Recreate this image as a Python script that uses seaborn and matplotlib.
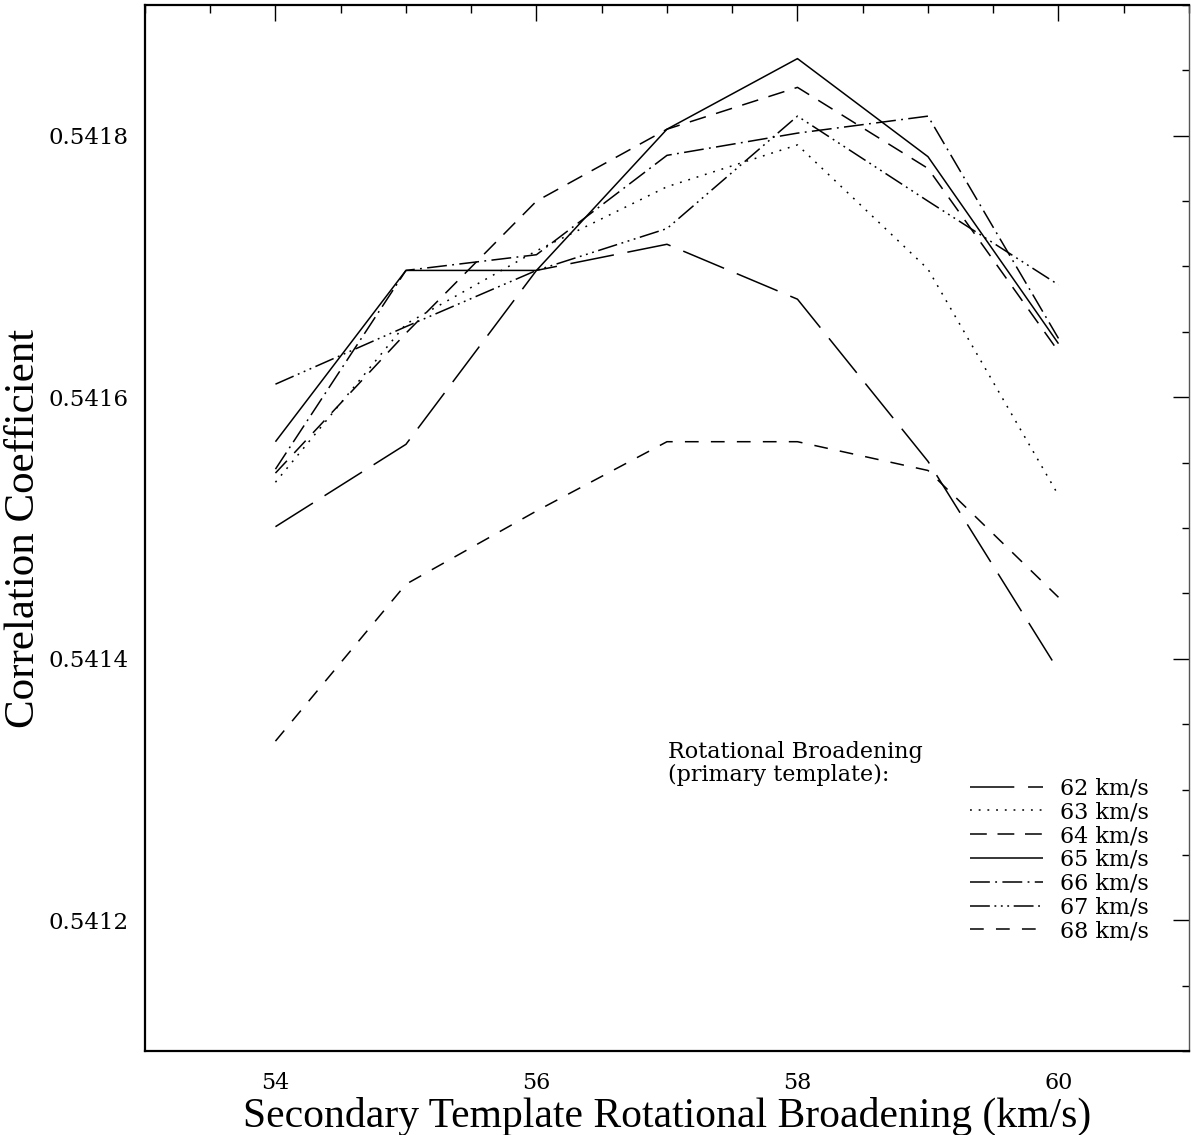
import numpy as np
import pandas as pd
import matplotlib
matplotlib.use("Agg")
import matplotlib.pyplot as plt
import seaborn as sns
from matplotlib.ticker import MultipleLocator, FormatStrFormatter

# ---- data ----
secondary_vrot = [54, 55, 56, 57, 58, 59, 60]
primary_labels = ["62 km/s", "63 km/s", "64 km/s", "65 km/s", "66 km/s", "67 km/s", "68 km/s"]
corr_62 = [0.541501, 0.541564, 0.541697, 0.541717, 0.541675, 0.541551, 0.541391]
corr_63 = [0.541535, 0.541656, 0.541712, 0.541761, 0.541793, 0.541698, 0.541525]
corr_64 = [0.541542, 0.541649, 0.541750, 0.541805, 0.541837, 0.541775, 0.541635]
corr_65 = [0.541566, 0.541697, 0.541697, 0.541805, 0.541859, 0.541784, 0.541641]
corr_66 = [0.541545, 0.541697, 0.541709, 0.541785, 0.541802, 0.541815, 0.541645]
corr_67 = [0.541610, 0.541654, 0.541697, 0.541729, 0.541815, 0.541750, 0.541686]
corr_68 = [0.541337, 0.541457, 0.541513, 0.541566, 0.541566, 0.541544, 0.541447]
all_series = [corr_62, corr_63, corr_64, corr_65, corr_66, corr_67, corr_68]

rows = []
for lab, ser in zip(primary_labels, all_series):
    for xv, yv in zip(secondary_vrot, ser):
        rows.append({"x": xv, "y": yv, "primary": lab})
df = pd.DataFrame(rows)

dash_map = {
    "62 km/s": (29, 9),
    "63 km/s": (1.2, 4.5),
    "64 km/s": (11, 7),
    "65 km/s": (1, 0),
    "66 km/s": (13, 3.5, 1.2, 3.5),
    "67 km/s": (13, 3, 1.2, 3, 1.2, 3, 1.2, 3),
    "68 km/s": (9, 8),
}

sns.set_style("white")
plt.rcParams["font.family"] = ["DejaVu Serif"]
plt.rcParams["text.color"] = "black"
plt.rcParams["axes.labelcolor"] = "black"
plt.rcParams["xtick.color"] = "black"
plt.rcParams["ytick.color"] = "black"

fig = plt.figure(figsize=(11.91, 11.35), dpi=100)
ax = fig.add_axes([0.1217, 0.0740, 0.8766, 0.9216])

sns.lineplot(data=df, x="x", y="y", hue="primary", style="primary",
             palette=["black"] * 7, dashes=dash_map, linewidth=1.1,
             legend=False, ax=ax, sort=False)

ax.set_xlim(53, 61)
ax.set_ylim(0.5411, 0.5419)
ax.xaxis.set_major_locator(MultipleLocator(2))
ax.xaxis.set_minor_locator(MultipleLocator(0.5))
ax.yaxis.set_major_locator(MultipleLocator(0.0002))
ax.yaxis.set_minor_locator(MultipleLocator(0.00005))
ax.yaxis.set_major_formatter(FormatStrFormatter("%.4f"))
ax.tick_params(which="both", direction="in", top=True, right=True,
               color="black", labelcolor="black", width=1.0)
ax.tick_params(which="major", length=11.5)
ax.tick_params(which="minor", length=5.4)
ax.tick_params(axis="x", which="major", pad=15, labelsize=16)
ax.tick_params(axis="y", which="major", pad=12, labelsize=16.5)
for s in ["left", "bottom", "top"]:
    ax.spines[s].set_linewidth(1.6)
    ax.spines[s].set_color("black")
ax.spines["right"].set_linewidth(1.0)
ax.spines["right"].set_color("#555555")

ax.set_xlabel("Secondary Template Rotational Broadening (km/s)",
              fontsize=30, family="Liberation Serif", color="black")
ax.set_ylabel("Correlation Coefficient", fontsize=31, family="Liberation Serif",
              color="black")
ax.xaxis.set_label_coords(0.5, -0.044)
ax.yaxis.set_label_coords(-0.098, 0.5)

ax.text(0.501, 0.296, "Rotational Broadening\n(primary template):",
        transform=ax.transAxes, ha="left", va="top", fontsize=16,
        linespacing=1.05, color="black")

handles = ax.get_lines()[:7]
leg = ax.legend(handles, primary_labels, loc="upper left",
                bbox_to_anchor=(0.790, 0.2615), frameon=False,
                fontsize=16, handlelength=3.3, handletextpad=0.75,
                labelspacing=0.08, borderpad=0, borderaxespad=0)
for t in leg.get_texts():
    t.set_color("black")

fig.savefig("out.png", dpi=100)
